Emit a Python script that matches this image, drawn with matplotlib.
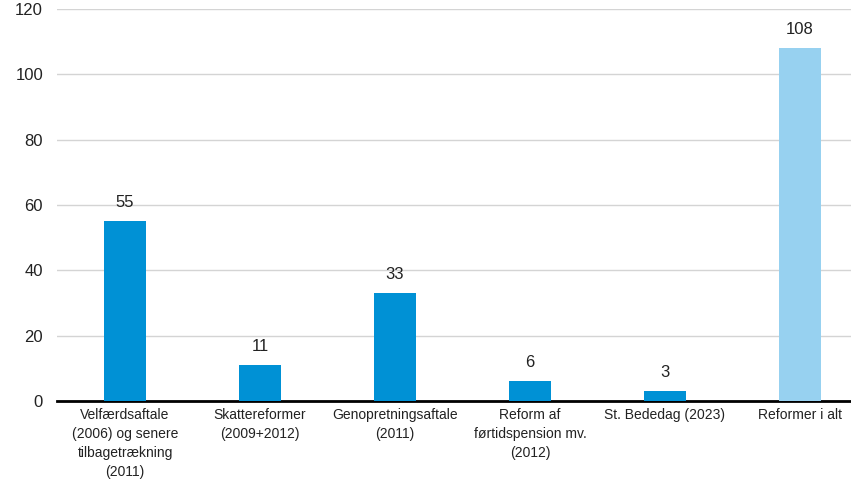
import matplotlib.pyplot as plt
from matplotlib import font_manager

names = {f.name for f in font_manager.fontManager.ttflist}
narrow = 'Liberation Sans Narrow' if 'Liberation Sans Narrow' in names else 'Liberation Sans'

categories = ['Velfærdsaftale\n(2006) og senere\ntilbagetrækning\n(2011)',
              'Skattereformer\n(2009+2012)',
              'Genopretningsaftale\n(2011)',
              'Reform af\nførtidspension mv.\n(2012)',
              'St. Bededag (2023)',
              'Reformer i alt']
values = [55, 11, 33, 6, 3, 108]
colors = ['#0091D5'] * 5 + ['#97D1F0']

plt.rcParams['font.family'] = 'Liberation Sans'
fig = plt.figure(figsize=(8.51, 4.83), dpi=100)
ax = fig.add_axes([57 / 851, 82 / 483, 1 - 57 / 851, 392 / 483])

x = list(range(len(values)))
bars = ax.bar(x, values, width=0.31, color=colors, zorder=3)
for xi, v in zip(x, values):
    ax.annotate(str(v), (xi, v), xytext=(0, 8), textcoords='offset points',
                ha='center', va='bottom', fontsize=12, color='#222222')

ax.set_ylim(0, 120)
ax.set_xlim(-0.504, 5.378)
ax.set_yticks(range(0, 121, 20))
ax.yaxis.grid(True, color='#D4D4D4', linewidth=1)
ax.set_axisbelow(True)
for s in ['left', 'right', 'top']:
    ax.spines[s].set_visible(False)
ax.spines['bottom'].set_linewidth(2)
ax.spines['bottom'].set_color('black')
ax.tick_params(axis='y', length=0, pad=10, labelsize=12, labelcolor='#222222')
ax.tick_params(axis='x', length=0, pad=5)
ax.set_xticks(x)
ax.set_xticklabels(categories, fontsize=10, family=narrow, linespacing=1.45, color='#222222')

fig.savefig('out.png', dpi=100)
